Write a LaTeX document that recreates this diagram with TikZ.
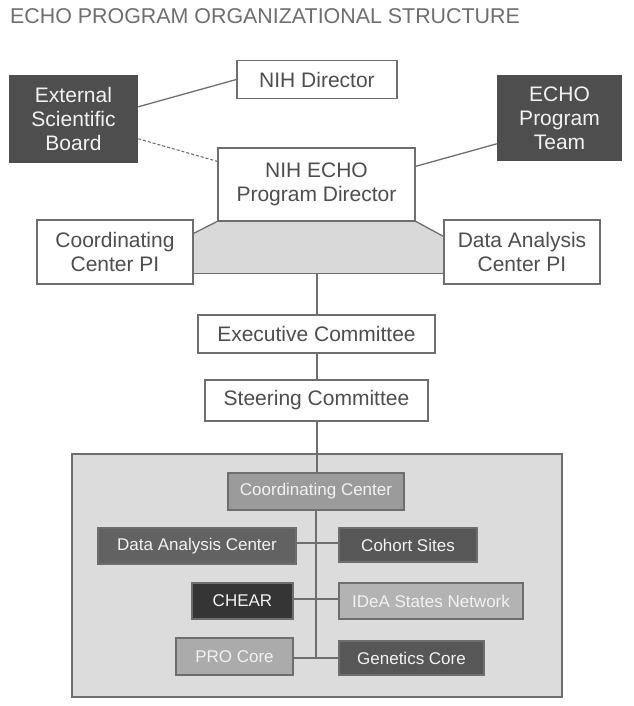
\documentclass[tikz,border=0pt]{standalone}
\usepackage{fontspec}
\setmainfont{Liberation Sans}
\usetikzlibrary{calc}
\definecolor{lineg}{HTML}{6E6E6E}
\definecolor{txtg}{HTML}{4E4E4E}
\definecolor{titleg}{HTML}{6E6E6E}
\definecolor{darkbox}{HTML}{4E4E4E}
\definecolor{trapg}{HTML}{D9D9D9}
\definecolor{outerg}{HTML}{DCDCDC}
\definecolor{ccg}{HTML}{9B9B9B}
\definecolor{dacg}{HTML}{626262}
\definecolor{cohg}{HTML}{575757}
\definecolor{chearg}{HTML}{353535}
\definecolor{ideag}{HTML}{B3B3B3}
\definecolor{prog}{HTML}{ABABAB}
\definecolor{geng}{HTML}{575757}
\definecolor{lighttxt}{HTML}{F2F2F2}
\begin{document}
\begin{tikzpicture}[x=1pt,y=-1pt,
  wbox/.style={draw=lineg, line width=1.3pt, fill=white, text=txtg, inner sep=0pt, align=center,
    font=\fontsize{21}{24}\selectfont},
  dbox/.style={draw=none, fill=darkbox, text=lighttxt, inner sep=0pt, align=center,
    font=\fontsize{21}{24}\selectfont},
  ibox/.style={draw=lineg, line width=1.2pt, text=lighttxt, inner sep=0pt, align=center,
    font=\fontsize{17}{20}\selectfont},
  conn/.style={draw=lineg, line width=1.3pt},
  dconn/.style={draw=lineg, line width=1.1pt, dash pattern=on 3pt off 2pt}
]
\useasboundingbox (0,0) rectangle (633,706);

% title
\node[anchor=base west, inner sep=0pt, text=titleg, font=\fontsize{21.4}{24}\selectfont] (title) at (10,24) {ECHO PROGRAM ORGANIZATIONAL STRUCTURE};

% outer box
\node[draw=lineg, line width=1.3pt, fill=outerg, minimum width=490pt, minimum height=243pt, inner sep=0pt] (outer) at (317,575.5) {};

% top nodes
\node[wbox, minimum width=160pt, minimum height=38pt] (nihdir) at (317,79.5) {NIH Director};
\node[dbox, minimum width=129pt, minimum height=88pt] (esb) at (73.5,119) {External\\Scientific\\Board};
\node[dbox, minimum width=125pt, minimum height=86pt] (echopt) at (559.5,118) {ECHO\\Program\\Team};
\node[wbox, minimum width=156pt, minimum height=64pt] (ccpi) at (115,252) {Coordinating\\Center PI};
\node[wbox, minimum width=156pt, minimum height=64pt] (dacpi) at (522,252) {Data Analysis\\Center PI};

% trapezoid
\coordinate (tl) at (218,221);
\coordinate (tr) at (415,221);
\coordinate (bot) at (317,273);
\fill[trapg] (tl) -- ($(ccpi.north east)+(0,14)$) -- (ccpi.east |- bot) -- (dacpi.west |- bot) -- ($(dacpi.north west)+(0,17)$) -- (tr) -- cycle;
\draw[conn] (tl) -- ($(ccpi.north east)+(0,14)$);
\draw[conn] (tr) -- ($(dacpi.north west)+(0,17)$);
\draw[draw=lineg, line width=1pt] (ccpi.east |- bot) -- (dacpi.west |- bot);
\node[wbox, minimum width=156pt, minimum height=64pt] at (ccpi) {Coordinating\\Center PI};
\node[wbox, minimum width=156pt, minimum height=64pt] at (dacpi) {Data Analysis\\Center PI};

\node[wbox, minimum width=197pt, minimum height=73pt] (pd) at (316.5,184.5) {NIH ECHO\\Program Director};

\node[wbox, minimum width=237pt, minimum height=38pt] (exec) at (316.5,334) {Executive Committee};
\node[wbox, minimum width=223pt, minimum height=41pt] (steer) at (316.5,400.5) {Steering Committee};

% top connectors
\draw[conn] ($(esb.north east)+(0,32)$) -- (nihdir.west);
\draw[dconn] ($(esb.north east)+(0,64)$) -- ($(pd.north west)+(0,14)$);
\draw[conn] ($(echopt.north west)+(0,69)$) -- ($(pd.north east)+(0,19)$);
\draw[conn] (bot) -- (bot |- exec.north);
\draw[conn] (exec.south -| bot) -- (steer.north -| bot);
\draw[conn] (steer.south -| bot) -- (bot |- outer.north) -- (bot |- 0,473);

% inner nodes
\coordinate (trunkend) at (316,658);
\node[ibox, fill=ccg, minimum width=176pt, minimum height=37pt] (cc) at (316,491.5) {Coordinating Center};
\draw[conn] (cc.south -| trunkend) -- (trunkend);
\node[ibox, fill=dacg, minimum width=198pt, minimum height=36pt] (dac) at (197,546) {Data Analysis Center};
\node[ibox, fill=cohg, minimum width=138pt, minimum height=34pt] (cohort) at (408,545) {Cohort Sites};
\node[ibox, fill=chearg, minimum width=101pt, minimum height=36pt] (chear) at (242.5,601) {CHEAR};
\node[ibox, fill=ideag, minimum width=184pt, minimum height=36pt] (idea) at (431,601) {IDeA States Network};
\node[ibox, fill=prog, minimum width=117pt, minimum height=37pt] (pro) at (234.5,656.5) {PRO Core};
\node[ibox, fill=geng, minimum width=145pt, minimum height=34pt] (gen) at (411.5,658) {Genetics Core};

\draw[conn] (dac.east |- 0,543) -- (cohort.west |- 0,543);
\draw[conn] (chear.east |- 0,599) -- (idea.west |- 0,599);
\draw[conn] (pro.east |- trunkend) -- (gen.west |- trunkend);
\end{tikzpicture}
\end{document}
